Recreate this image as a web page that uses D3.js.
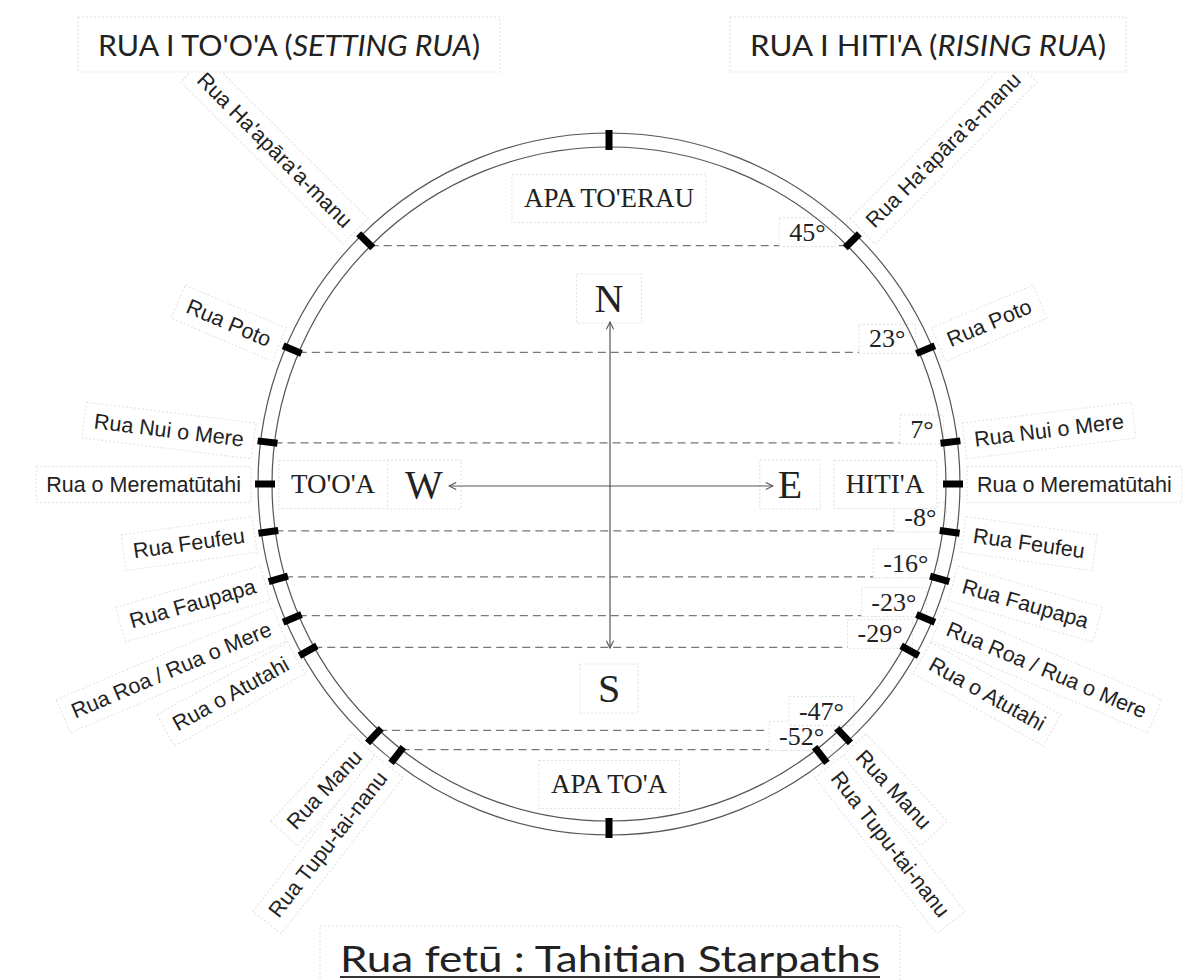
<!DOCTYPE html>
<html>
<head>
<meta charset="utf-8">
<script src="https://cdn.jsdelivr.net/npm/d3@7"></script>
<style>
  body { margin: 0; background: #fff; }
</style>
</head>
<body>
<div id="chart"></div>
<script>
// star paths (rua) and the declination each one sits on
const starpaths = [
  "Rua Ha'apāra'a-manu",
  'Rua Poto',
  'Rua Nui o Mere',
  'Rua o Merematūtahi',
  'Rua Feufeu',
  'Rua Faupapa',
  'Rua Roa / Rua o Mere',
  'Rua o Atutahi',
  'Rua Manu',
  'Rua Tupu-tai-nanu',
];
const declinations = [45, 23, 7, 0, -8, -16, -23, -29, -47, -52];
const poles = [90, -90];

const cardinals = ['N', 'S', 'W', 'E'];
const cardinalAngles = [90, -90, 180, 0];
const regions = ["APA TO'ERAU", "APA TO'A", "TO'O'A", "HITI'A"];
const regionAngles = [90, -90, 180, 0];

const titleLeft = ["RUA I TO'O'A (", 'SETTING RUA', ')'];
const titleRight = ["RUA I HITI'A (", 'RISING RUA', ')'];
const caption = 'Rua fetū : Tahitian Starpaths';

const WIDTH = 1197,
  HEIGHT = 980;
const cx = 609,
  cy = 484;
const R_OUT = 351,
  R_IN = 337,
  R_LABEL = 368;

const SANS = "'Liberation Sans', Arial, sans-serif";
const SERIF = "'Liberation Serif', 'Times New Roman', serif";
const TITLE = "Lato, 'Open Sans', sans-serif";

const svg = d3
  .select('#chart')
  .append('svg')
  .attr('width', WIDTH)
  .attr('height', HEIGHT);

// degrees -> radians around the compass, 0 = east, 90 = north
const angle = d3.scaleLinear().domain([-180, 180]).range([-Math.PI, Math.PI]);
const px = (deg, r) => cx + r * Math.cos(angle(deg));
const py = (deg, r) => cy - r * Math.sin(angle(deg));
// x of the inner ring edge at a given height (east side)
const ringX = y => cx + Math.sqrt(Math.max(0, R_IN * R_IN - (y - cy) * (y - cy)));

const defs = svg.append('defs');
defs
  .append('marker')
  .attr('id', 'arrow')
  .attr('viewBox', '0 0 10 10')
  .attr('refX', 9)
  .attr('refY', 5)
  .attr('markerWidth', 9)
  .attr('markerHeight', 9)
  .attr('markerUnits', 'userSpaceOnUse')
  .attr('orient', 'auto-start-reverse')
  .append('path')
  .attr('d', 'M1,1 L9,5 L1,9')
  .attr('fill', 'none')
  .attr('stroke', '#555')
  .attr('stroke-width', 1.2);

// a faint dotted box behind a text node
function boxed(g, textSel, padX, padY) {
  const b = textSel.node().getBBox();
  g.insert('rect', 'text')
    .attr('x', b.x - padX)
    .attr('y', b.y - padY)
    .attr('width', b.width + padX * 2)
    .attr('height', b.height + padY * 2)
    .attr('fill', '#fff')
    .attr('stroke', '#e0e0e0')
    .attr('stroke-width', 1)
    .attr('stroke-dasharray', '2,2');
}

// dashed declination lines
const withLines = declinations.filter(d => d !== 0);
svg
  .selectAll('line.dec')
  .data(withLines)
  .enter()
  .append('line')
  .attr('class', 'dec')
  .attr('x1', d => px(180 - d, R_IN))
  .attr('x2', d => px(d, R_IN))
  .attr('y1', d => py(d, R_IN))
  .attr('y2', d => py(d, R_IN))
  .attr('stroke', '#777')
  .attr('stroke-width', 1.2)
  .attr('stroke-dasharray', '8,5');

// degree labels next to the rising ticks, pushed up when they collide
const degBoxes = [];
withLines
  .slice()
  .sort((a, b) => a - b)
  .forEach(d => {
    const lineY = py(d, R_IN);
    let base = lineY - 5;
    const g = svg.append('g');
    const t = g
      .append('text')
      .attr('x', ringX(lineY - 13) - 8)
      .attr('y', base)
      .attr('text-anchor', 'end')
      .style('font-family', SERIF)
      .style('font-size', '26px')
      .attr('fill', '#222')
      .text(d + '°');
    let b = t.node().getBBox();
    degBoxes.forEach(o => {
      const hOver = b.x < o.x + o.width && o.x < b.x + b.width;
      if (hOver && b.y + b.height > o.y + 4) {
        const shift = b.y + b.height - o.y - 4;
        base -= shift;
        t.attr('y', base);
        b = t.node().getBBox();
      }
    });
    degBoxes.push(b);
    boxed(g, t, 10, 0);
  });

// star path labels, radial, on both sides
starpaths.forEach((name, i) => {
  const d = declinations[i];
  // rising (east)
  const gr = svg
    .append('g')
    .attr('transform', `translate(${px(d, R_LABEL)},${py(d, R_LABEL)}) rotate(${-d})`);
  const tr = gr
    .append('text')
    .attr('dy', '0.35em')
    .attr('text-anchor', 'start')
    .style('font-family', SANS)
    .style('font-size', '21.5px')
    .attr('fill', '#222')
    .text(name);
  boxed(gr, tr, 10, 6);

  // setting (west)
  const gl = svg
    .append('g')
    .attr('transform', `translate(${px(180 - d, R_LABEL)},${py(180 - d, R_LABEL)}) rotate(${d})`);
  const tl = gl
    .append('text')
    .attr('dy', '0.35em')
    .attr('text-anchor', 'end')
    .style('font-family', SANS)
    .style('font-size', '21.5px')
    .attr('fill', '#222')
    .text(name);
  boxed(gl, tl, 10, 6);
});

// cardinal letters inside the ring
const cardR = [186, 204, 185, 181];
cardinals.forEach((c, i) => {
  const a = cardinalAngles[i];
  const g = svg.append('g');
  const t = g
    .append('text')
    .attr('x', px(a, cardR[i]))
    .attr('y', py(a, cardR[i]))
    .attr('dy', '0.35em')
    .attr('text-anchor', 'middle')
    .style('font-family', SERIF)
    .style('font-size', '40px')
    .attr('fill', '#222')
    .text(c);
  boxed(g, t, 18, 2);
});

// region names
const regR = [286, 300, 276, 276];
regions.forEach((c, i) => {
  const a = regionAngles[i];
  const g = svg.append('g');
  const t = g
    .append('text')
    .attr('x', px(a, regR[i]))
    .attr('y', py(a, regR[i]))
    .attr('dy', '0.35em')
    .attr('text-anchor', 'middle')
    .style('font-family', SERIF)
    .style('font-size', '27px')
    .attr('fill', '#222')
    .text(c);
  boxed(g, t, 12, 9);
});

// ring, drawn over the label boxes
svg
  .selectAll('circle.ring')
  .data([R_OUT, R_IN])
  .enter()
  .append('circle')
  .attr('class', 'ring')
  .attr('cx', cx)
  .attr('cy', cy)
  .attr('r', d => d)
  .attr('fill', 'none')
  .attr('stroke', '#555')
  .attr('stroke-width', 1.2);

// ticks on the ring: rising side, setting side and the two poles
const tickAngles = declinations
  .map(d => d)
  .concat(declinations.map(d => 180 - d))
  .concat(poles);
svg
  .selectAll('line.tick')
  .data(tickAngles)
  .enter()
  .append('line')
  .attr('class', 'tick')
  .attr('x1', d => px(d, R_IN - 3))
  .attr('y1', d => py(d, R_IN - 3))
  .attr('x2', d => px(d, R_OUT + 3))
  .attr('y2', d => py(d, R_OUT + 3))
  .attr('stroke', '#000')
  .attr('stroke-width', 7);

// compass arrows, on top of the label boxes
svg
  .append('line')
  .attr('x1', cx + 1)
  .attr('x2', cx + 1)
  .attr('y1', 322)
  .attr('y2', 648)
  .attr('stroke', '#555')
  .attr('stroke-width', 1.2)
  .attr('marker-start', 'url(#arrow)')
  .attr('marker-end', 'url(#arrow)');
svg
  .append('line')
  .attr('x1', 449)
  .attr('x2', 773)
  .attr('y1', cy + 2)
  .attr('y2', cy + 2)
  .attr('stroke', '#555')
  .attr('stroke-width', 1.2)
  .attr('marker-start', 'url(#arrow)')
  .attr('marker-end', 'url(#arrow)');

// titles top left / top right
[
  [titleLeft, 289, 382],
  [titleRight, 928, 356],
].forEach(([parts, x, len]) => {
  const g = svg.append('g');
  const t = g
    .append('text')
    .attr('x', x)
    .attr('y', 56)
    .attr('text-anchor', 'middle')
    .attr('textLength', len)
    .attr('lengthAdjust', 'spacingAndGlyphs')
    .style('font-family', TITLE)
    .style('font-size', '29px')
    .attr('fill', '#222');
  parts.forEach((p, k) => {
    t.append('tspan')
      .style('font-style', k === 1 ? 'italic' : 'normal')
      .text(p);
  });
  boxed(g, t, 20, 10);
});

// caption
const cg = svg.append('g');
const ct = cg
  .append('text')
  .attr('x', cx + 1)
  .attr('y', 972)
  .attr('text-anchor', 'middle')
  .attr('textLength', 540)
  .attr('lengthAdjust', 'spacingAndGlyphs')
  .style('font-family', TITLE)
  .style('font-size', '36px')
  .attr('fill', '#222')
  .text(caption);
const cb = ct.node().getBBox();
boxed(cg, ct, 20, 10);
cg.append('line')
  .attr('x1', cb.x)
  .attr('x2', cb.x + cb.width)
  .attr('y1', 977)
  .attr('y2', 977)
  .attr('stroke', '#333')
  .attr('stroke-width', 2);
</script>
</body>
</html>
